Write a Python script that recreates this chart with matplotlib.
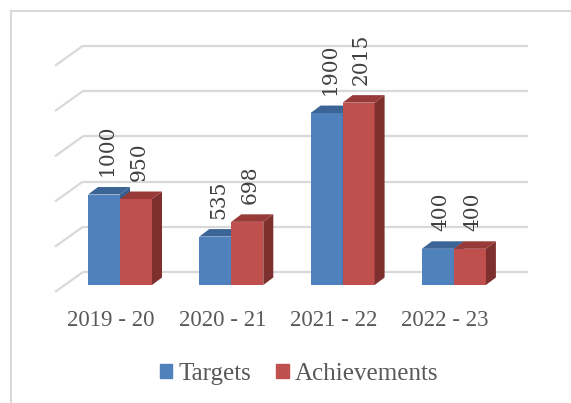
import matplotlib
matplotlib.use("Agg")
import matplotlib.pyplot as plt
import numpy as np
from matplotlib.lines import Line2D

# chart data
years = ["2019 - 20", "2020 - 21", "2021 - 22", "2022 - 23"]
targets = [1000, 535, 1900, 400]
achievements = [950, 698, 2015, 400]
series_names = ["Targets", "Achievements"]
grid_values = [0, 500, 1000, 1500, 2000, 2500]

W, H = 571, 403
fig = plt.figure(figsize=(W / 100, H / 100), dpi=100)

# axes box in pixels (left, right, top, bottom)
L, R, T, B = 40, 540, 30, 300
ax = fig.add_axes([L / W, 1 - B / H, (R - L) / W, (B - T) / H])

# scale: px per category and px per value unit
PXX = 111.3
PXY = 0.0905
X0, Y0 = 120, 285  # pixel of category 0 / value 0 on bar front plane
ax.set_xlim((L - X0) / PXX, (R - X0) / PXX)
ax.set_ylim((Y0 - B) / PXY, (Y0 - T) / PXY)
ax.axis("off")

def px_x(p):
    return p / PXX

def px_y(p):
    return p / PXY

# 3d offsets
bar_dx, bar_dy = px_x(10), px_y(7.5)
back_dx, back_dy = px_x(19), px_y(13)
front_dx, front_dy = px_x(-9), px_y(-7)
wall_left = px_x(83 - X0)
wall_right = px_x(528 - X0)

grid_c = "#D9D9D9"
for v in grid_values:
    ax.plot([wall_left, wall_right], [v + back_dy, v + back_dy], color=grid_c, lw=1.6, zorder=1,
            solid_capstyle="butt")
    ax.plot([wall_left, wall_left + (front_dx - back_dx)], [v + back_dy, v + front_dy],
            color=grid_c, lw=1.6, zorder=1, solid_capstyle="butt")

bw = 0.2875
x = np.arange(len(years))
colors = [("#4F81BD", "#3A5F8E", "#3B6497"), ("#C0504D", "#7D302E", "#973A38")]

def draw_bar(x_left, h, cols, z):
    front, side, top = cols
    ax.bar(x_left, h, width=bw, align="edge", color=front, zorder=z, linewidth=0)
    xr = x_left + bw
    ax.fill([xr, xr + bar_dx, xr + bar_dx, xr], [0, bar_dy, h + bar_dy, h],
            color=side, zorder=z, linewidth=0)
    ax.fill([x_left, x_left + bar_dx, xr + bar_dx, xr], [h, h + bar_dy, h + bar_dy, h],
            color=top, zorder=z, linewidth=0)

for i in range(len(years)):
    draw_bar(x[i] - bw, targets[i], colors[0], 2 + 2 * i)
    draw_bar(x[i], achievements[i], colors[1], 3 + 2 * i)

lab_font = "Liberation Serif"
for i in range(len(years)):
    for j, vals in enumerate([targets, achievements]):
        cx = x[i] - bw / 2 + j * bw + px_x(3)
        ax.text(cx, vals[i] + px_y(18), str(vals[i]), rotation=90, ha="center", va="bottom",
                fontsize=14.5, color="#404040", family="DejaVu Serif", zorder=20)

# category labels on the front plane
for i, lab in enumerate(years):
    ax.text(x[i] + front_dx, px_y(Y0 - 320), lab, ha="center", va="center",
            fontsize=16.5, color="#595959", family=lab_font)

# legend
handles = [plt.Rectangle((0, 0), 1, 1, color=colors[0][0]),
           plt.Rectangle((0, 0), 1, 1, color=colors[1][0])]
fig.legend(handles, series_names, loc="center", bbox_to_anchor=(299 / W, 1 - 374 / H), ncol=2,
           frameon=False, prop={"family": lab_font, "size": 18}, labelcolor="#595959",
           handlelength=0.5, handleheight=0.5, handletextpad=0.25, columnspacing=1.0)

# chart border (only top and left visible)
fig.add_artist(Line2D([11 / W, 1], [1 - 11 / H, 1 - 11 / H], color=grid_c, lw=1.5))
fig.add_artist(Line2D([11 / W, 11 / W], [0, 1 - 11 / H], color=grid_c, lw=1.5))

fig.savefig("out.png", dpi=100)
